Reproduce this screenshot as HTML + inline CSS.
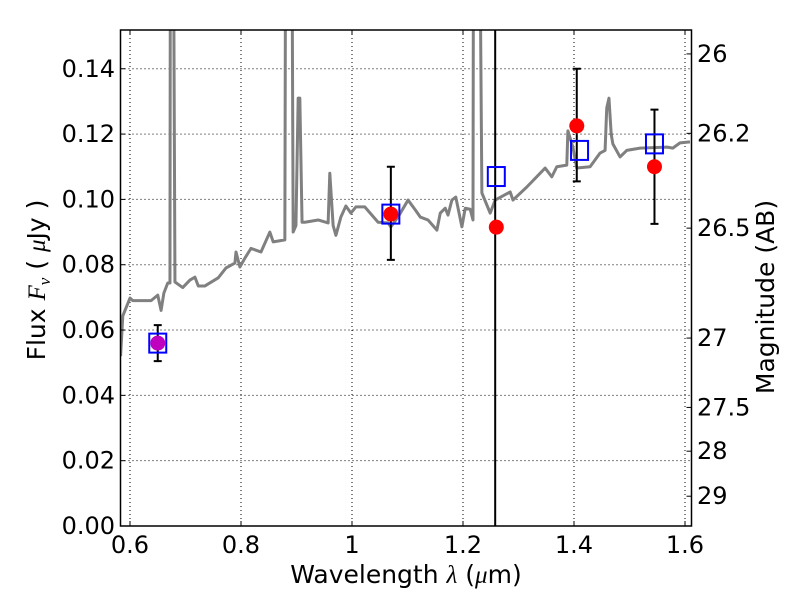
<!DOCTYPE html>
<html><head><meta charset="utf-8"><style>
body{margin:0;background:#fff;}
svg text{font-family:"DejaVu Sans","Liberation Sans",sans-serif;}
</style></head><body>
<svg id="chart" width="800" height="600" xmlns="http://www.w3.org/2000/svg">
<defs><clipPath id="clip"><rect x="120.5" y="30" width="571" height="496"/></clipPath></defs>
<g id="grid"></g>
<g id="spec" clip-path="url(#clip)"></g>
<g id="marks" clip-path="url(#clip)"></g>
<g id="axes"></g>
<text x="406" y="583" font-size="25" text-anchor="middle">Wavelength  <tspan font-style="italic" font-family="Liberation Serif,serif">λ</tspan> (<tspan font-style="italic" font-family="Liberation Serif,serif">μ</tspan>m)</text>
<text transform="translate(45,280) rotate(-90)" font-size="25" text-anchor="middle">Flux  <tspan font-style="italic" font-family="Liberation Serif,serif">F</tspan><tspan font-style="italic" font-family="Liberation Serif,serif" font-size="17" dy="5">ν</tspan><tspan dy="-5">  ( </tspan><tspan font-style="italic" font-family="Liberation Serif,serif">μ</tspan>Jy )</text>
<text transform="translate(774,297) rotate(-90)" font-size="25" text-anchor="middle">Magnitude (AB)</text>
</svg>
<script>
const specWl=[0.583,0.587,0.600,0.605,0.638,0.650,0.656,0.661,0.668,0.672,0.6735,0.6755,0.681,0.695,0.708,0.717,0.723,0.735,0.759,0.773,0.789,0.791,0.798,0.807,0.818,0.836,0.852,0.858,0.879,0.882,0.889,0.894,0.899,0.903,0.906,0.910,0.915,0.939,0.957,0.960,0.966,0.971,0.980,0.989,0.998,1.007,1.023,1.047,1.065,1.070,1.083,1.101,1.114,1.123,1.137,1.153,1.159,1.168,1.173,1.180,1.187,1.198,1.204,1.213,1.218,1.220,1.225,1.234,1.249,1.258,1.285,1.290,1.315,1.348,1.360,1.369,1.387,1.389,1.398,1.405,1.429,1.447,1.456,1.459,1.463,1.467,1.470,1.483,1.495,1.519,1.568,1.578,1.591,1.609];
const specFlux=[0.052,0.0643,0.0698,0.069,0.069,0.0707,0.066,0.0713,0.0744,0.0744,0.30,0.30,0.0747,0.073,0.0753,0.0762,0.0735,0.0735,0.076,0.079,0.0805,0.0839,0.0793,0.082,0.085,0.0839,0.090,0.087,0.0876,0.30,0.30,0.090,0.092,0.131,0.131,0.093,0.093,0.0937,0.0928,0.108,0.092,0.089,0.0946,0.098,0.0958,0.0977,0.0977,0.093,0.0928,0.0916,0.0946,0.0998,0.0968,0.0946,0.0937,0.0906,0.0958,0.0973,0.0952,0.0998,0.1007,0.0916,0.0973,0.0970,0.0937,0.30,0.30,0.102,0.0958,0.0998,0.1023,0.0998,0.1038,0.1096,0.1069,0.110,0.1105,0.121,0.116,0.1096,0.110,0.1142,0.115,0.128,0.131,0.120,0.117,0.113,0.115,0.1157,0.1160,0.1157,0.1173,0.1176];
const modelWl=[0.65,1.07,1.26,1.41,1.545];
const modelFlux=[0.056,0.0955,0.107,0.115,0.117];
const obsWl=[1.07,1.26,1.405,1.545];
const obsFlux=[0.0955,0.0915,0.1225,0.110];
const errWl=[0.65,1.07,1.405,1.545];
const errLo=[0.0505,0.0815,0.1055,0.0925];
const errHi=[0.0615,0.110,0.140,0.1275];
const purpleWl=[0.65];
const purpleFlux=[0.056];
const xTicks=[0.6,0.8,1.0,1.2,1.4,1.6];
const xTickLabels=["0.6","0.8","1","1.2","1.4","1.6"];
const yTicks=[0,0.02,0.04,0.06,0.08,0.10,0.12,0.14];
const yTickLabels=["0.00","0.02","0.04","0.06","0.08","0.10","0.12","0.14"];
const magTicks=[26,26.2,26.5,27,27.5,28,29];
const magTickLabels=["26","26.2","26.5","27","27.5","28","29"];
const vlineWl=[1.258];

const L=120.5,R=691.5,T=30,B=526;
const xs=v=>130+(v-0.6)*555;
const ys=v=>526-v*3266;
const magToFlux=m=>Math.pow(10,(23.9-m)/2.5);
const NS="http://www.w3.org/2000/svg";
function mk(p,tag,a){const e=document.createElementNS(NS,tag);for(const k in a)e.setAttribute(k,a[k]);p.appendChild(e);return e;}
const grid=document.getElementById('grid'),spec=document.getElementById('spec'),marks=document.getElementById('marks'),axes=document.getElementById('axes');

xTicks.forEach((t,i)=>{
  const g=mk(grid,'line',{x1:xs(t),x2:xs(t),y1:T,y2:B,stroke:'#000','stroke-width':1,'stroke-dasharray':'1,3'});
  
  
  const tk=mk(axes,'line',{x1:xs(t),x2:xs(t),y1:B,y2:B-5,stroke:'#000','stroke-width':1});
  
  
  const tk2=mk(axes,'line',{x1:xs(t),x2:xs(t),y1:T,y2:T+5,stroke:'#000','stroke-width':1});
  
  
  const tx=mk(axes,'text',{x:xs(t),y:B+27,'font-size':24,'text-anchor':'middle'});
  tx.textContent=xTickLabels[i];
  
  
});
yTicks.forEach((t,i)=>{
  if(t>0){const g=mk(grid,'line',{x1:L,x2:R,y1:ys(t),y2:ys(t),stroke:'#000','stroke-width':1,'stroke-dasharray':'1,3'});
  
  }
  const tk=mk(axes,'line',{x1:L,x2:L+5,y1:ys(t),y2:ys(t),stroke:'#000','stroke-width':1});
  
  
  const tx=mk(axes,'text',{x:115,y:ys(t)+8,'font-size':24,'text-anchor':'end'});
  tx.textContent=yTickLabels[i];
  
  
});
magTicks.forEach((m,i)=>{
  const y=ys(magToFlux(m));
  const tk=mk(axes,'line',{x1:R,x2:R-5,y1:y,y2:y,stroke:'#000','stroke-width':1});
  
  
  const tx=mk(axes,'text',{x:697,y:y+8,'font-size':24,'text-anchor':'start'});
  tx.textContent=magTickLabels[i];
  
  
});
const fr=mk(axes,'rect',{x:L,y:T,width:R-L,height:B-T,fill:'none',stroke:'#000','stroke-width':1.5});



const pl=mk(spec,'polyline',{points:specWl.map((w,i)=>xs(w)+','+ys(specFlux[i])).join(' '),fill:'none',stroke:'#808080','stroke-width':3,'stroke-linejoin':'round'});



vlineWl.forEach(w=>{
  const v=mk(marks,'line',{x1:xs(w),x2:xs(w),y1:T,y2:B,stroke:'#000','stroke-width':2});
  
  
});
errWl.forEach((w,i)=>{
  const x=xs(w);
  const e=mk(marks,'path',{d:`M${x},${ys(errLo[i])}V${ys(errHi[i])}M${x-4},${ys(errLo[i])}H${x+4}M${x-4},${ys(errHi[i])}H${x+4}`,stroke:'#000','stroke-width':2,fill:'none'});
  
  
});
modelWl.forEach((w,i)=>{
  const s=mk(marks,'rect',{x:xs(w)-8.5,y:ys(modelFlux[i])-9.5,width:17,height:19,fill:'none',stroke:'#0000ff','stroke-width':2});
  
  
});
obsWl.forEach((w,i)=>{
  const c=mk(marks,'circle',{cx:xs(w),cy:ys(obsFlux[i]),r:7.5,fill:'#ff0000'});
  
  
});
purpleWl.forEach((w,i)=>{
  const c=mk(marks,'circle',{cx:xs(w),cy:ys(purpleFlux[i]),r:7.5,fill:'#bf00bf'});
  
  
});
</script>
</body></html>
